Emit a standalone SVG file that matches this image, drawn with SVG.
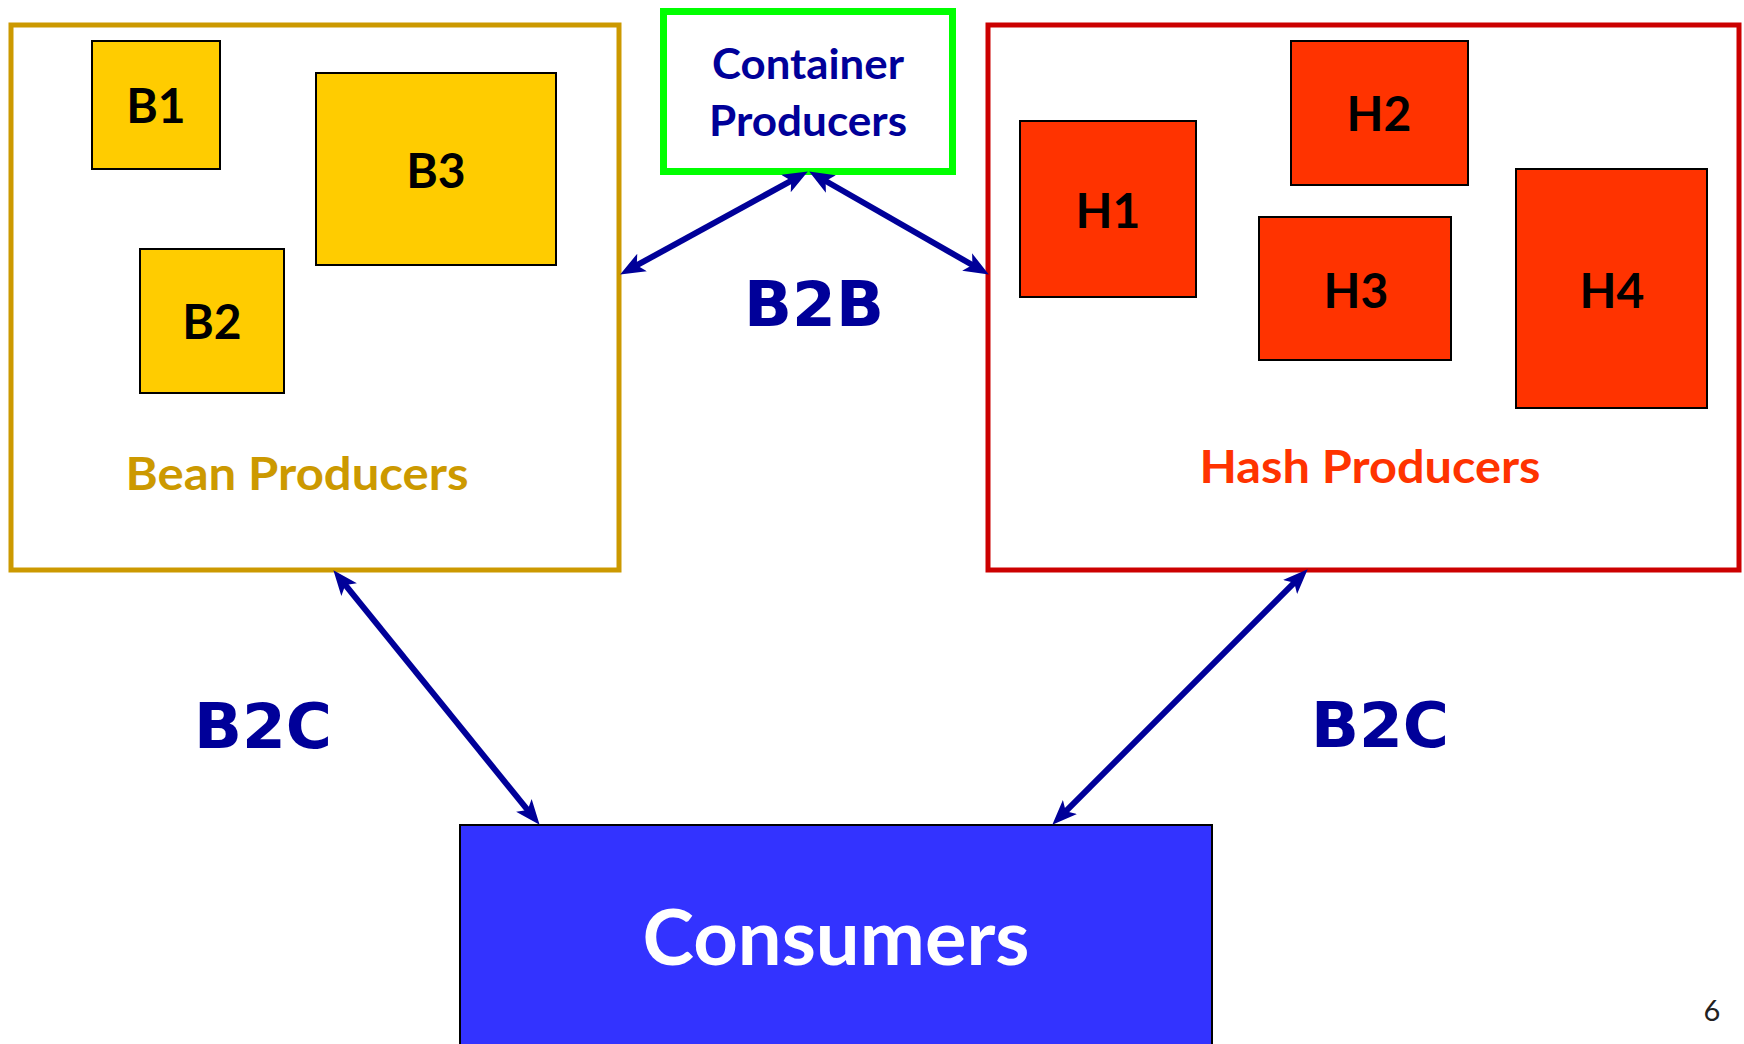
<svg xmlns="http://www.w3.org/2000/svg" width="1744" height="1044" viewBox="0 0 1744 1044">
<style>
.lbl{font-family:Lato,"Open Sans","Liberation Sans",sans-serif;font-weight:bold;text-anchor:middle}
.box{font-size:48px;fill:#000}
.big{font-family:"DejaVu Sans",Verdana,sans-serif;font-weight:bold;font-size:63px;fill:#000099;text-anchor:middle}
.bsq{fill:#FFCC00;stroke:#000;stroke-width:2}
.hsq{fill:#FF3300;stroke:#000;stroke-width:2}
.conn{stroke:#000099;stroke-width:6;fill:none;marker-start:url(#ah);marker-end:url(#ah)}
</style>
<defs>
<marker id="ah" markerUnits="userSpaceOnUse" markerWidth="26" markerHeight="22" viewBox="0 0 26 22" refX="11" refY="11" orient="auto-start-reverse">
<path d="M0,1 L25,11 L0,21 L6,11 Z" fill="#000099"/>
</marker>
</defs>
<rect width="1744" height="1044" fill="#fff"/>
<g id="bean-producers">
<rect x="11" y="25" width="608" height="545" fill="#fff" stroke="#CC9900" stroke-width="5"/>
<text class="lbl" x="297" y="490" font-size="45" fill="#CC9900" textLength="343" lengthAdjust="spacingAndGlyphs">Bean Producers</text>
</g>
<g id="B1"><rect class="bsq" x="92" y="41" width="128" height="128"/><text class="lbl box" x="156" y="123">B1</text></g>
<g id="B3"><rect class="bsq" x="316" y="73" width="240" height="192"/><text class="lbl box" x="436" y="188">B3</text></g>
<g id="B2"><rect class="bsq" x="140" y="249" width="144" height="144"/><text class="lbl box" x="212" y="339">B2</text></g>
<g id="container-producers">
<rect x="663.5" y="11.5" width="289" height="160" fill="#fff" stroke="#00FF00" stroke-width="7"/>
<text class="lbl" x="808" y="79" font-size="42" fill="#000099" textLength="192" lengthAdjust="spacingAndGlyphs">Container</text>
<text class="lbl" x="808" y="136" font-size="42" fill="#000099" textLength="198" lengthAdjust="spacingAndGlyphs">Producers</text>
</g>
<g id="hash-producers">
<rect x="988" y="25" width="751" height="545" fill="#fff" stroke="#CC0000" stroke-width="5"/>
<text class="lbl" x="1370" y="483" font-size="45" fill="#FF3300" textLength="341" lengthAdjust="spacingAndGlyphs">Hash Producers</text>
</g>
<g id="H1"><rect class="hsq" x="1020" y="121" width="176" height="176"/><text class="lbl box" x="1108" y="228">H1</text></g>
<g id="H2"><rect class="hsq" x="1291" y="41" width="177" height="144"/><text class="lbl box" x="1379" y="131">H2</text></g>
<g id="H3"><rect class="hsq" x="1259" y="217" width="192" height="143"/><text class="lbl box" x="1356" y="308">H3</text></g>
<g id="H4"><rect class="hsq" x="1516" y="169" width="191" height="239"/><text class="lbl box" x="1612" y="308">H4</text></g>
<g id="consumers">
<rect x="460" y="825" width="752" height="230" fill="#3333FF" stroke="#000" stroke-width="2"/>
<text class="lbl" x="836" y="965" font-size="77" fill="#fff" textLength="387" lengthAdjust="spacingAndGlyphs">Consumers</text>
</g>
<g id="connectors">
<line class="conn" x1="795.6" y1="178.3" x2="632.4" y2="267.7"/>
<line class="conn" x1="821.3" y1="178.5" x2="976.7" y2="267.5"/>
<line class="conn" x1="342.2" y1="581.1" x2="530.8" y2="813.9"/>
<line class="conn" x1="1297.8" y1="579.2" x2="1062.2" y2="814.8"/>
</g>
<g id="labels">
<text class="big" x="814" y="326">B2B</text>
<text class="big" x="263" y="748">B2C</text>
<text class="big" x="1380" y="747">B2C</text>
<text x="1712" y="1021" font-family="Lato,'Liberation Sans',sans-serif" font-size="29" fill="#222" text-anchor="middle">6</text>
</g>
</svg>
